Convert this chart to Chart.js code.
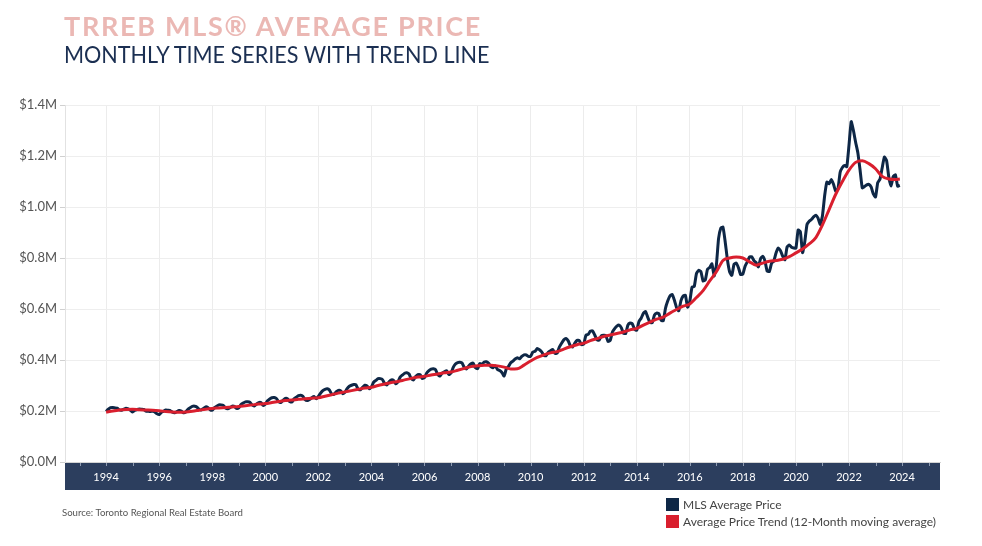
<!DOCTYPE html>
<html>
<head>
<meta charset="utf-8">
<script src="https://cdn.jsdelivr.net/npm/chart.js@4.4.1/dist/chart.umd.min.js"></script>
<style>
  html, body { margin: 0; padding: 0; background: #fff; }
  body { width: 982px; height: 546px; position: relative; overflow: hidden; font-family: Lato, "Open Sans", sans-serif; }
  #chart { position: absolute; left: 0; top: 0; }
  .title { position: absolute; left: 64px; top: 9px; font-weight: 700; font-size: 27px; color: #ebb8b4; letter-spacing: 1.7px; white-space: nowrap; }
  .subtitle { position: absolute; left: 64px; top: 39px; font-weight: 400; font-size: 24px; color: #1b2f52; white-space: nowrap; transform: scaleX(0.9); transform-origin: left top; }
  .source { position: absolute; left: 62px; top: 507px; font-size: 9.6px; color: #555; }
  .legend { position: absolute; left: 666px; top: 497px; font-size: 12px; color: #444; }
  .legend div { height: 17px; line-height: 15px; white-space: nowrap; }
  .legend span { display: inline-block; width: 13px; height: 13px; vertical-align: -2px; margin-right: 4px; }
</style>
</head>
<body>
<canvas id="chart" width="982" height="546"></canvas>
<div class="title">TRREB MLS® AVERAGE PRICE</div>
<div class="subtitle">MONTHLY TIME SERIES WITH TREND LINE</div>
<div class="source">Source: Toronto Regional Real Estate Board</div>
<div class="legend">
  <div><span style="background:#0e2746"></span>MLS Average Price</div>
  <div><span style="background:#d91f2e"></span>Average Price Trend (12-Month moving average)</div>
</div>
<script>
// monthly average price, $ thousands, Jan 1994 - Dec 2023
const avgPrice = [
  198, 207, 213, 214, 212, 211, 204, 203, 207, 211, 208, 203, // 1994
  196, 203, 206, 208, 207, 206, 200, 199, 198, 200, 196, 189, // 1995
  186, 195, 199, 204, 203, 202, 195, 193, 198, 202, 200, 193, // 1996
  196, 207, 213, 218, 219, 216, 207, 204, 210, 216, 214, 205, // 1997
  203, 213, 219, 224, 224, 222, 212, 209, 213, 219, 218, 210, // 1998
  212, 225, 231, 236, 236, 234, 224, 220, 227, 233, 233, 222, // 1999
  227, 240, 247, 252, 253, 249, 237, 233, 242, 249, 248, 237, // 2000
  235, 248, 254, 260, 262, 258, 244, 241, 245, 252, 257, 248, // 2001
  257, 270, 280, 285, 287, 282, 267, 265, 275, 281, 280, 268, // 2002
  273, 288, 297, 301, 304, 303, 285, 283, 293, 301, 298, 287, // 2003
  295, 313, 320, 327, 327, 323, 307, 302, 315, 322, 320, 307, // 2004
  314, 333, 341, 348, 350, 345, 327, 322, 335, 343, 343, 327, // 2005
  331, 349, 358, 364, 366, 362, 343, 337, 349, 354, 358, 343, // 2006
  349, 371, 384, 390, 391, 388, 370, 365, 377, 385, 388, 370, // 2007
  366, 386, 384, 392, 393, 387, 374, 370, 377, 363, 359, 351, // 2008
  337, 365, 375, 389, 396, 404, 409, 405, 414, 420, 420, 414, // 2009
  415, 431, 434, 445, 440, 432, 418, 417, 430, 436, 441, 426, // 2010
  427, 451, 466, 479, 484, 475, 455, 451, 466, 477, 476, 460, // 2011
  462, 497, 500, 513, 514, 498, 479, 478, 495, 497, 496, 473, // 2012
  477, 510, 523, 533, 537, 527, 505, 504, 537, 545, 542, 520, // 2013
  517, 551, 564, 583, 590, 567, 548, 546, 576, 584, 582, 556, // 2014
  554, 603, 631, 651, 657, 635, 606, 593, 633, 651, 654, 607, // 2015
  630, 686, 688, 739, 752, 747, 710, 714, 756, 763, 777, 730, // 2016
  771, 876, 917, 921, 864, 794, 746, 732, 775, 780, 762, 735, // 2017
  737, 768, 785, 804, 805, 790, 782, 765, 797, 807, 788, 748, // 2018
  747, 780, 788, 820, 839, 829, 807, 793, 843, 851, 842, 839, // 2019
  839, 910, 903, 821, 864, 931, 944, 951, 961, 968, 956, 932, // 2020
  966, 1045, 1098, 1091, 1108, 1089, 1062, 1071, 1136, 1155, 1163, 1158, // 2021
  1243, 1335, 1300, 1254, 1213, 1146, 1075, 1080, 1087, 1089, 1079, 1051, // 2022
  1039, 1096, 1109, 1153, 1196, 1182, 1118, 1082, 1119, 1126, 1082, 1085  // 2023
];

// 12-month trend, $ thousands, read quarterly (Jan, Apr, Jul, Oct), 1994 - 2023
const trendQuarterly = [
  195, 200, 204, 206,   // 1994
  207, 205, 204, 203,   // 1995
  201, 198, 196, 195,   // 1996
  196, 199, 203, 207,   // 1997
  210, 212, 214, 216,   // 1998
  218, 221, 224, 227,   // 1999
  229, 233, 237, 241,   // 2000
  243, 246, 248, 250,   // 2001
  252, 258, 264, 270,   // 2002
  275, 280, 285, 290,   // 2003
  293, 300, 306, 312,   // 2004
  316, 322, 328, 333,   // 2005
  336, 341, 345, 350,   // 2006
  353, 360, 367, 374,   // 2007
  377, 379, 379, 377,   // 2008
  372, 365, 366, 380,   // 2009
  396, 410, 420, 428,   // 2010
  433, 443, 452, 460,   // 2011
  466, 476, 484, 492,   // 2012
  498, 504, 510, 518,   // 2013
  524, 537, 549, 560,   // 2014
  568, 584, 598, 611,   // 2015
  620, 645, 672, 710,   // 2016
  746, 790, 800, 804,   // 2017
  800, 785, 772, 780,   // 2018
  787, 790, 795, 805,   // 2019
  820, 835, 855, 880,   // 2020
  930, 990, 1050, 1100, // 2021
  1145, 1175, 1181, 1170, // 2022
  1150, 1120, 1110, 1108  // 2023
];
const trendDec2023 = 1110;

const startYear = 1994;
const yearTicks = [1993, 1994, 1995, 1996, 1997, 1998, 1999, 2000, 2001, 2002, 2003, 2004, 2005,
  2006, 2007, 2008, 2009, 2010, 2011, 2012, 2013, 2014, 2015, 2016, 2017, 2018, 2019, 2020,
  2021, 2022, 2023, 2024, 2025];
const priceTicks = [0, 200, 400, 600, 800, 1000, 1200, 1400];

const priceData = avgPrice.map((v, i) => ({ x: startYear + i / 12, y: v }));
const trendData = trendQuarterly.map((v, i) => ({ x: startYear + i / 4, y: v }));
trendData.push({ x: startYear + 359 / 12, y: trendDec2023 });

// navy band under the plot with a small mark at every year
const axisBand = {
  id: "axisBand",
  beforeDraw(chart) {
    const { ctx, chartArea, scales } = chart;
    ctx.save();
    ctx.fillStyle = "#2c3e5e";
    ctx.fillRect(chartArea.left, chartArea.bottom, chartArea.right - chartArea.left, 28);
    ctx.strokeStyle = "#8f9cb3";
    ctx.lineWidth = 1;
    yearTicks.forEach(yr => {
      const px = Math.round(scales.x.getPixelForValue(yr)) + 0.5;
      ctx.beginPath();
      ctx.moveTo(px, chartArea.bottom);
      ctx.lineTo(px, chartArea.bottom + 4);
      ctx.stroke();
    });
    ctx.restore();
  }
};

new Chart(document.getElementById("chart").getContext("2d"), {
  type: "line",
  data: {
    datasets: [
      {
        label: "Average Price Trend (12-Month moving average)",
        data: trendData,
        borderColor: "#d91f2e",
        borderWidth: 3,
        pointRadius: 0,
        tension: 0.4,
        cubicInterpolationMode: "monotone",
        order: 0
      },
      {
        label: "MLS Average Price",
        data: priceData,
        borderColor: "#0e2746",
        borderWidth: 3,
        pointRadius: 0,
        tension: 0.15,
        borderJoinStyle: "round",
        order: 1
      }
    ]
  },
  options: {
    responsive: false,
    animation: false,
    devicePixelRatio: 1,
    layout: { padding: { top: 105, right: 42, bottom: 56, left: 0 } },
    plugins: { legend: { display: false }, tooltip: { enabled: false } },
    scales: {
      x: {
        type: "linear",
        min: 1992.45,
        max: 2025.43,
        afterBuildTicks: s => { s.ticks = yearTicks.map(v => ({ value: v })); },
        afterFit: s => { s.height = 28; },
        grid: {
          color: c => (c.tick && c.tick.value % 2 === 0) ? "#ececec" : "rgba(0,0,0,0)",
          drawTicks: false
        },
        border: { display: true, color: "#d4d4d4" },
        ticks: {
          autoSkip: false,
          maxRotation: 0,
          padding: 9,
          color: "#ffffff",
          font: { family: "Lato", size: 11 },
          callback: v => (v % 2 === 0 ? String(v) : "")
        }
      },
      y: {
        min: 0,
        max: 1400,
        afterBuildTicks: s => { s.ticks = priceTicks.map(v => ({ value: v })); },
        afterFit: s => { s.width = 65; },
        grid: { color: "#eeeeee", drawTicks: true, tickLength: 5, tickColor: "#d0d0d0" },
        border: { display: true, color: "#e2e2e2" },
        ticks: {
          padding: 3,
          color: "#555555",
          font: { family: "Lato", size: 13 },
          callback: v => "$" + (v / 1000).toFixed(1) + "M"
        }
      }
    }
  },
  plugins: [axisBand]
});
</script>
</body>
</html>
